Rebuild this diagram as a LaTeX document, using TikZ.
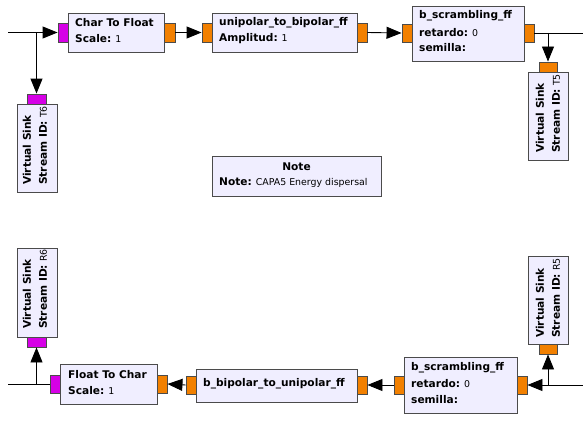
\documentclass[tikz,border=0pt]{standalone}
\usepackage{fontspec}
\setmainfont{DejaVu Sans}
\usetikzlibrary{arrows.meta}
\definecolor{blockfill}{RGB}{240,238,255}
\definecolor{blockdraw}{RGB}{75,75,75}
\definecolor{fport}{RGB}{242,128,0}
\definecolor{bport}{RGB}{214,0,230}
\newcommand{\bt}[1]{{\fontsize{10.6}{12}\selectfont\bfseries #1}}
\tikzset{
  blk/.style={draw=blockdraw, fill=blockfill, line width=0.9pt},
  fp/.style={draw=blockdraw, fill=fport, line width=0.9pt},
  bp/.style={draw=blockdraw, fill=bport, line width=0.9pt},
  txt/.style={font=\fontsize{9.4}{12}\selectfont, inner sep=0pt, anchor=west, text=black},
  vtxt/.style={txt, rotate=90},
  wire/.style={line width=0.9pt},
  arr/.style={wire, -{Triangle[length=15pt,width=12pt]}},
}
\begin{document}
\begin{tikzpicture}[x=1pt,y=-1pt]
\useasboundingbox[fill=white] (0,0) rectangle (583,420);

% Char To Float
\draw[blk] (68,13) rectangle (164,52);
\node[bp, minimum width=10pt, minimum height=19pt, inner sep=0pt] (cfin) at (63,32.5) {};
\node[fp, minimum width=11pt, minimum height=19pt, inner sep=0pt] (cfout) at (169.5,32.5) {};
\node[txt] (cft) at (75,23) {\bt{Char To Float}};
\node[txt] (cfs) at (75,39) {\bt{Scale:} 1};

% unipolar_to_bipolar_ff
\draw[blk] (212,13) rectangle (357,52);
\node[fp, minimum width=10pt, minimum height=19pt, inner sep=0pt] (ubin) at (207,32.5) {};
\node[fp, minimum width=10pt, minimum height=19pt, inner sep=0pt] (ubout) at (362,32.5) {};
\node[txt] (ubt) at (219,23) {\bt{unipolar\_to\_bipolar\_ff}};
\node[txt] (uba) at (219,39) {\bt{Amplitud:} 1};

% b_scrambling_ff (top)
\draw[blk] (412,6) rectangle (524,61);
\node[fp, minimum width=10pt, minimum height=18pt, inner sep=0pt] (s1in) at (407,33) {};
\node[fp, minimum width=10pt, minimum height=18pt, inner sep=0pt] (s1out) at (529,33) {};
\node[txt] (s1t) at (419,16) {\bt{b\_scrambling\_ff}};
\node[txt] (s1r) at (419,33) {\bt{retardo:} 0};
\node[txt] (s1s) at (419,48) {\bt{semilla:}};

% Virtual Sink T5
\draw[blk] (528,72) rectangle (568,160);
\node[fp, minimum width=18pt, minimum height=10pt, inner sep=0pt] (v5p) at (548,67) {};
\node[vtxt] (v5a) at (540,153) {\bt{Virtual Sink}};
\node[vtxt] (v5b) at (556,153) {\bt{Stream ID:} T5};

% Virtual Sink T6
\draw[blk] (17,104) rectangle (57,192);
\node[bp, minimum width=19pt, minimum height=10pt, inner sep=0pt] (v6p) at (36.5,99) {};
\node[vtxt] (v6a) at (27,185) {\bt{Virtual Sink}};
\node[vtxt] (v6b) at (43,185) {\bt{Stream ID:} T6};

% Note
\draw[blk] (212,156) rectangle (381,196);
\node[txt, anchor=center] (nt) at (296.5,167) {\bt{Note}};
\node[txt] (nb) at (219,183) {\bt{Note:} CAPA5 Energy dispersal};

% Virtual Sink R6
\draw[blk] (17,248) rectangle (57,337);
\node[bp, minimum width=19pt, minimum height=10pt, inner sep=0pt] (r6p) at (36.5,342) {};
\node[vtxt] (r6a) at (27,329) {\bt{Virtual Sink}};
\node[vtxt] (r6b) at (43,329) {\bt{Stream ID:} R6};

% Float To Char
\draw[blk] (60,364) rectangle (157,404);
\node[bp, minimum width=10pt, minimum height=18pt, inner sep=0pt] (fcin) at (55,384) {};
\node[fp, minimum width=10pt, minimum height=18pt, inner sep=0pt] (fcout) at (162,384) {};
\node[txt] (fct) at (68,375) {\bt{Float To Char}};
\node[txt] (fcs) at (68,391) {\bt{Scale:} 1};

% b_bipolar_to_unipolar_ff
\draw[blk] (196,369) rectangle (357,402);
\node[fp, minimum width=10pt, minimum height=18pt, inner sep=0pt] (buout) at (191,385) {};
\node[fp, minimum width=10pt, minimum height=18pt, inner sep=0pt] (buin) at (362,385) {};
\node[txt] (but) at (203,384) {\bt{b\_bipolar\_to\_unipolar\_ff}};

% b_scrambling_ff (bottom)
\draw[blk] (404,357) rectangle (517,413);
\node[fp, minimum width=10pt, minimum height=18pt, inner sep=0pt] (s2out) at (399,385) {};
\node[fp, minimum width=10pt, minimum height=18pt, inner sep=0pt] (s2in) at (522,385) {};
\node[txt] (s2t) at (411,368) {\bt{b\_scrambling\_ff}};
\node[txt] (s2r) at (411,384) {\bt{retardo:} 0};
\node[txt] (s2s) at (411,400) {\bt{semilla:}};

% Virtual Sink R5
\draw[blk] (528,256) rectangle (568,344);
\node[fp, minimum width=18pt, minimum height=10pt, inner sep=0pt] (r5p) at (548,349) {};
\node[vtxt] (r5a) at (540,338) {\bt{Virtual Sink}};
\node[vtxt] (r5b) at (556,338) {\bt{Stream ID:} R5};

% connectors
\coordinate (tl) at (8,32.5);
\coordinate (tlb) at (36.5,32.5);
\draw[arr] (tl) -- (cfin.west);
\draw[arr] (tlb) -- (v6p.north);
\draw[arr] (cfout.east) -- (ubin.west);
\draw[arr] (ubout.east) -- (s1in.west);
\coordinate (tr) at (583,33);
\coordinate (trb) at (548,33);
\draw[wire] (s1out.east) -- (tr);
\draw[arr] (trb) -- (v5p.north);

\coordinate (br) at (583,385);
\coordinate (brb) at (548,385);
\draw[arr] (br) -- (s2in.east);
\draw[arr] (brb) -- (r5p.south);
\draw[arr] (s2out.west) -- (buin.east);
\draw[arr] (buout.west) -- (fcout.east);
\coordinate (bl) at (8,384);
\coordinate (blb) at (36.5,384);
\draw[wire] (fcin.west) -- (bl);
\draw[arr] (blb) -- (r6p.south);
\end{tikzpicture}
\end{document}
